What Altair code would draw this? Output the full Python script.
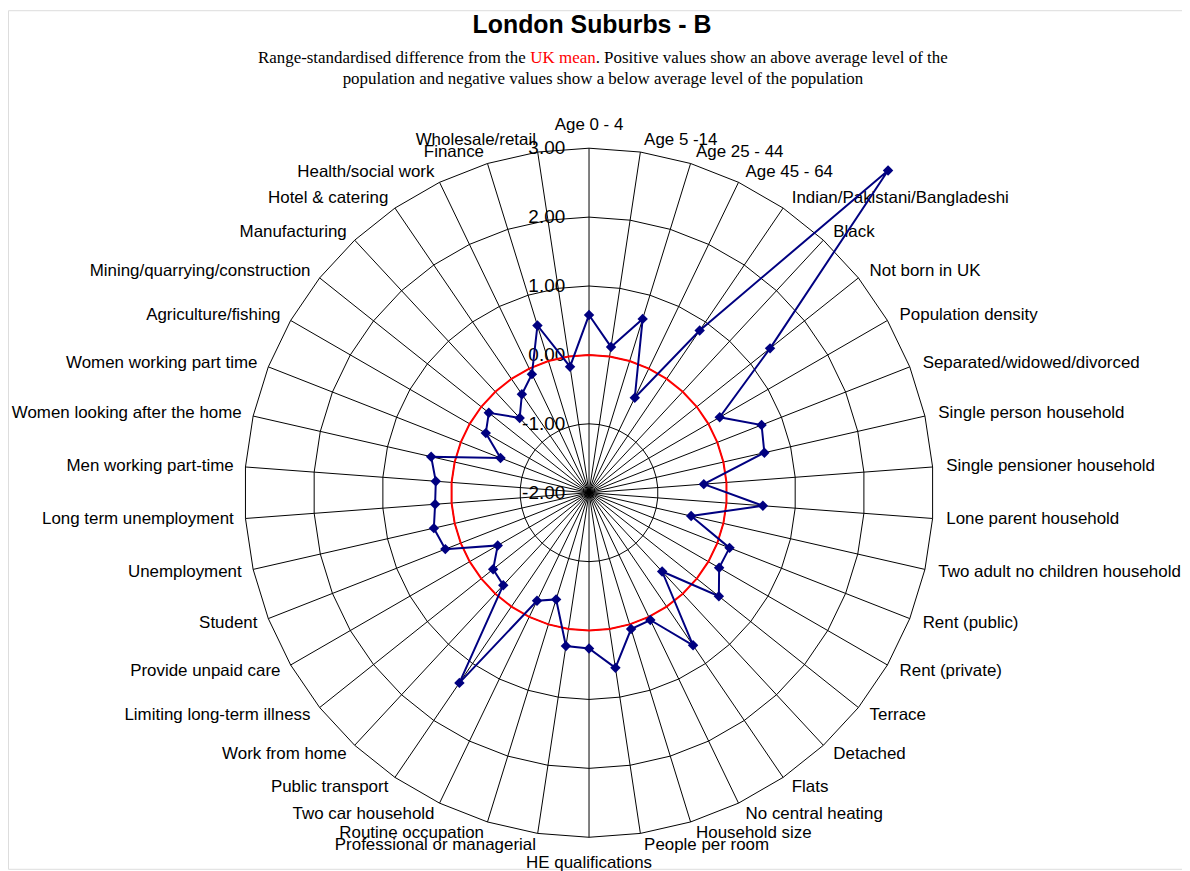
import altair as alt
import pandas as pd

# ---------------- data ----------------
categories = [
    "Age 0 - 4", "Age 5 -14", "Age 25 - 44", "Age 45 - 64",
    "Indian/Pakistani/Bangladeshi", "Black", "Not born in UK", "Population density",
    "Separated/widowed/divorced", "Single person household", "Single pensioner household",
    "Lone parent household", "Two adult no children household", "Rent (public)",
    "Rent (private)", "Terrace", "Detached", "Flats", "No central heating",
    "Household size", "People per room", "HE qualifications", "Professional or managerial",
    "Routine occupation", "Two car household", "Public transport", "Work from home",
    "Limiting long-term illness", "Provide unpaid care", "Student", "Unemployment",
    "Long term unemployment", "Men working part-time", "Women looking after the home",
    "Women working part time", "Agriculture/fishing", "Mining/quarrying/construction",
    "Manufacturing", "Hotel & catering", "Health/social work", "Finance", "Wholesale/retail",
]
values = [
    0.58, 0.14, 0.64, -0.47,
    0.85, 4.38, 1.36, 0.19,
    0.69, 0.61, -0.33,
    0.53, -0.48, 0.19,
    0.18, 0.41, -0.44, 0.68, 0.05,
    0.07, 0.57, 0.26, 0.25,
    -0.38, -0.26, 1.34, -0.17,
    -0.22, -0.47, 0.24, 0.31,
    0.24, 0.23, 0.35,
    -0.62, -0.27, -0.14,
    -0.52, -0.27, -0.09, 0.54, -0.15,
]
uk_mean = [0.0] * len(categories)
ring_values = [-2, -1, 0, 1, 2, 3]
ring_labels = ["-2.00", "-1.00", "0.00", "1.00", "2.00", "3.00"]

title_text = "London Suburbs - B"
sub_a = "Range-standardised difference from the"
sub_b = "UK mean"
sub_c = ". Positive values show an above average level of the"
sub_line2 = "population and negative values show a below average level of the population"

# ---------------- layout ----------------
N = len(categories)
AXIS_MIN, AXIS_MAX = ring_values[0], ring_values[-1]
S = 69.26                 # px per unit
W, H = 1180, 863
CX, CY = 584, 485         # centre of radar in chart px
R_LAB, R_TOP, R_BOT = 5.17, 5.34, 5.37
SANS = "Liberation Sans, Arial, Helvetica, sans-serif"
SERIF = "Liberation Serif, Times New Roman, serif"

xs = alt.Scale(domain=[-CX / S, (W - CX) / S], nice=False, zero=False)
ys = alt.Scale(domain=[-(H - CY) / S, CY / S], nice=False, zero=False)


def X(f):
    return alt.X(f, type="quantitative", scale=xs, axis=None)


def Y(f):
    return alt.Y(f, type="quantitative", scale=ys, axis=None)


ANG = f"datum.idx * 2 * PI / {N}"
RAD = f"(datum.value - ({AXIS_MIN}))"


def polar(ch):
    return ch.transform_calculate(ang=ANG).transform_calculate(
        px=f"{RAD} * sin(datum.ang)", py=f"{RAD} * cos(datum.ang)"
    )


# grid rings (polygons)
grid_df = pd.DataFrame(
    [{"ring": rv, "idx": i, "value": rv} for rv in ring_values[1:] for i in range(N + 1)]
)
grid = polar(alt.Chart(grid_df)).mark_line(color="black", strokeWidth=1).encode(
    x=X("px"), y=Y("py"), detail="ring:N", order="idx:Q"
)

# spokes
spoke_df = pd.DataFrame({"idx": list(range(N)), "value": [AXIS_MAX] * N})
spokes = (
    polar(alt.Chart(spoke_df))
    .transform_calculate(cx="0", cy="0")
    .mark_rule(color="black", strokeWidth=1)
    .encode(x=X("cx"), y=Y("cy"), x2=alt.X2("px"), y2=alt.Y2("py"))
)

# ring value labels
ring_df = pd.DataFrame({"value": ring_values, "label": ring_labels})
ring_text = (
    alt.Chart(ring_df)
    .transform_calculate(cx="0", py=RAD)
    .mark_text(align="right", baseline="middle", dx=-24, fontSize=19, font=SANS, color="black")
    .encode(x=X("cx"), y=Y("py"), text="label:N")
)

# category labels
cat_df = pd.DataFrame({"idx": list(range(N)), "category": categories})
cat_base = (
    alt.Chart(cat_df)
    .transform_calculate(ang=ANG)
    .transform_calculate(
        lr=f"datum.idx == 0 ? {R_TOP} : (datum.idx == {N // 2} ? {R_BOT} : {R_LAB})"
    )
    .transform_calculate(lx="datum.lr * sin(datum.ang)", ly="datum.lr * cos(datum.ang)")
)


def cat_layer(flt, align, dx=0):
    return (
        cat_base.transform_filter(flt)
        .mark_text(align=align, baseline="middle", dx=dx, fontSize=17, font=SANS, color="black")
        .encode(x=X("lx"), y=Y("ly"), text="category:N")
    )


cat_right = cat_layer("sin(datum.ang) > 0.01", "left", dx=2)
cat_left = cat_layer("sin(datum.ang) < -0.01", "right")
cat_mid = cat_layer("abs(sin(datum.ang)) <= 0.01", "center")

# UK mean (red)
uk_df = pd.DataFrame({"idx": list(range(N + 1)), "value": uk_mean + [uk_mean[0]]})
uk_line = polar(alt.Chart(uk_df)).mark_line(color="#FF0000", strokeWidth=2).encode(
    x=X("px"), y=Y("py"), order="idx:Q"
)

# series
ser_df = pd.DataFrame(
    {"idx": list(range(N + 1)), "value": values + [values[0]], "category": categories + [categories[0]]}
)
ser_line = polar(alt.Chart(ser_df)).mark_line(color="#000080", strokeWidth=2).encode(
    x=X("px"), y=Y("py"), order="idx:Q"
)
ser_pts = (
    polar(alt.Chart(ser_df))
    .transform_filter(f"datum.idx < {N}")
    .mark_point(shape="diamond", filled=True, size=110, color="#000080", opacity=1)
    .encode(x=X("px"), y=Y("py"))
)

# titles
one = pd.DataFrame({"k": [0]})
title = alt.Chart(one).mark_text(
    text=title_text, fontSize=25, fontWeight="bold", font=SANS, align="center",
    baseline="middle", color="black",
).encode(x=alt.value(587), y=alt.value(15))

FS_SUB = 17
EM_A, EM_B, EM_ALL = 16.106, 3.86, 40.795
SUB_CX = 598
sub_start = SUB_CX - EM_ALL * FS_SUB / 2


def sub_piece(txt, x, y, color="black", align="left"):
    return alt.Chart(one).mark_text(
        text=txt, fontSize=FS_SUB, font=SERIF, align=align, baseline="middle", color=color
    ).encode(x=alt.value(x), y=alt.value(y))


subs = [
    sub_piece(sub_a, sub_start, 48),
    sub_piece(sub_b, sub_start + EM_A * FS_SUB, 48, color="#FF0000"),
    sub_piece(sub_c, sub_start + (EM_A + EM_B) * FS_SUB, 48),
    sub_piece(sub_line2, SUB_CX, 69, align="center"),
]

chart = (
    alt.layer(grid, spokes, ring_text, cat_right, cat_left, cat_mid, uk_line, ser_line, ser_pts, title, *subs)
    .properties(width=W, height=H, padding=0, autosize=alt.AutoSizeParams(type="none"))
    .configure_view(stroke="transparent", fill="white")
    .configure(background="white")
)

chart.save("out.html", embed_options={"renderer": "svg", "actions": False})
